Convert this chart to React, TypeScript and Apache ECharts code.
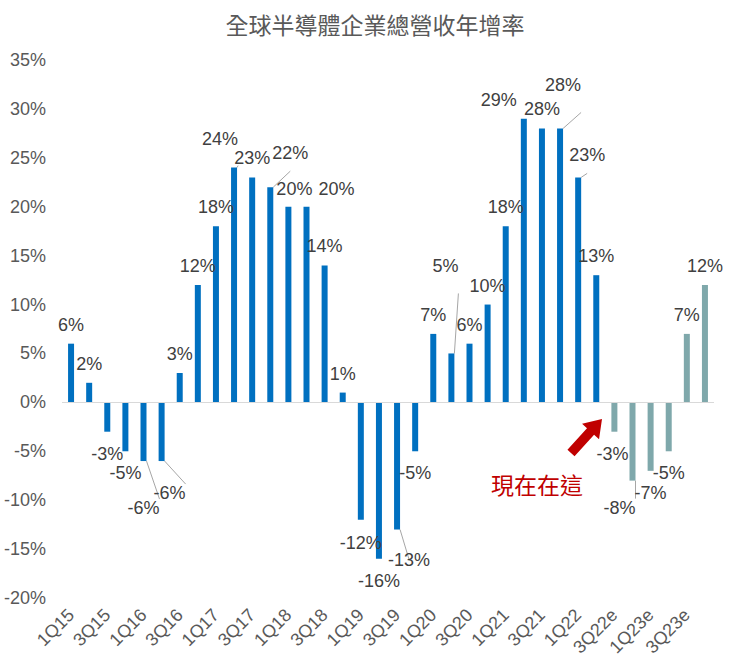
import React, { useEffect, useRef } from 'react';
import * as echarts from 'echarts';

const categories = [
  '1Q15', '2Q15', '3Q15', '4Q15', '1Q16', '2Q16', '3Q16', '4Q16',
  '1Q17', '2Q17', '3Q17', '4Q17', '1Q18', '2Q18', '3Q18', '4Q18',
  '1Q19', '2Q19', '3Q19', '4Q19', '1Q20', '2Q20', '3Q20', '4Q20',
  '1Q21', '2Q21', '3Q21', '4Q21', '1Q22', '2Q22', '3Q22e', '4Q22e',
  '1Q23e', '2Q23e', '3Q23e', '4Q23e',
];
const growth = [
  6, 2, -3, -5, -6, -6, 3, 12,
  18, 24, 23, 22, 20, 20, 14, 1,
  -12, -16, -13, -5, 7, 5, 6, 10,
  18, 29, 28, 28, 23, 13, -3, -8,
  -7, -5, 7, 12,
];
const yMin = -20;
const yMax = 35;
const yStep = 5;
const titleText = '全球半導體企業總營收年增率';
const noteText = '現在在這';

// label placement nudges (px) and which labels carry leader lines
const labelNudge: Record<number, [number, number]> = {
  4: [0, 25], 5: [8, 10], 9: [-14, -10], 11: [20, -15], 12: [6, 1], 13: [30, 1],
  16: [0, 1], 18: [12, 8], 21: [-6, -68], 25: [-25, 0], 27: [3, -24], 28: [9, -3],
  30: [-2, 0], 31: [-13, 5],
};
const leaderIdx = [4, 5, 9, 11, 18, 21, 27, 28, 31];

const BLUE = '#0070c0';
const TEAL = '#7fa8ab';
const FONT = "'Liberation Sans', Arial, 'Noto Sans CJK TC', sans-serif";

function arrowPoints(tail: [number, number], tip: [number, number]) {
  const dx = tip[0] - tail[0];
  const dy = tip[1] - tail[1];
  const len = Math.sqrt(dx * dx + dy * dy);
  const ux = dx / len, uy = dy / len;
  const nx = -uy, ny = ux;
  const headLen = 17, headHalf = 11.5, shaftHalf = 4.8;
  const bx = tip[0] - ux * headLen, by = tip[1] - uy * headLen;
  return [
    [tail[0] + nx * shaftHalf, tail[1] + ny * shaftHalf],
    [bx + nx * shaftHalf, by + ny * shaftHalf],
    [bx + nx * headHalf, by + ny * headHalf],
    [tip[0], tip[1]],
    [bx - nx * headHalf, by - ny * headHalf],
    [bx - nx * shaftHalf, by - ny * shaftHalf],
    [tail[0] - nx * shaftHalf, tail[1] - ny * shaftHalf],
  ];
}

export default function App() {
  const ref = useRef<HTMLDivElement>(null);

  useEffect(() => {
    document.body.style.margin = '0';
    if (!ref.current) return;
    const chart = echarts.init(ref.current, undefined, { renderer: 'svg' });
    const estStart = categories.findIndex((c) => c.endsWith('e'));

    const data = growth.map((v, i) => {
      const nudge = labelNudge[i] || [0, 0];
      const item: any = {
        value: v,
        itemStyle: { color: i >= estStart ? TEAL : BLUE },
        label: {
          position: v >= 0 ? 'top' : 'bottom',
          distance: v >= 0 ? 10 : 13,
          offset: nudge,
        },
      };
      if (leaderIdx.includes(i)) {
        item.labelLine = {
          show: true,
          length2: 0,
          lineStyle: { color: '#a6a6a6', width: 1 },
        };
      }
      return item;
    });

    chart.setOption({
      animation: false,
      textStyle: { fontFamily: FONT },
      title: {
        text: titleText,
        left: 370,
        top: 7,
        textAlign: 'center',
        textStyle: { fontSize: 23, fontWeight: 'normal', color: '#595959', fontFamily: "'Noto Sans CJK TC', sans-serif" },
      },
      grid: { left: 62, right: 15, top: 60, bottom: 67 },
      xAxis: {
        type: 'category',
        data: categories,
        axisLine: { show: false, onZero: false },
        axisTick: { show: false },
        axisLabel: {
          interval: 1,
          rotate: 45,
          margin: 14,
          fontSize: 18,
          color: '#595959',
          fontFamily: FONT,
        },
      },
      yAxis: {
        type: 'value',
        min: yMin,
        max: yMax,
        interval: yStep,
        splitLine: { show: false },
        axisLine: { show: false },
        axisTick: { show: false },
        axisLabel: {
          formatter: '{value}%',
          fontSize: 18,
          color: '#595959',
          margin: 16,
          fontFamily: FONT,
        },
      },
      series: [
        {
          type: 'bar',
          barWidth: 6,
          data,
          label: {
            show: true,
            formatter: '{c}%',
            fontSize: 18,
            color: '#404040',
            fontFamily: FONT,
          },
          markLine: {
            silent: true,
            symbol: 'none',
            label: { show: false },
            lineStyle: { color: '#d9d9d9', type: 'solid', width: 1 },
            data: [{ yAxis: 0 }],
          },
          z: 3,
        },
      ],
      graphic: [
        {
          type: 'polygon',
          shape: { points: arrowPoints([571, 453], [602, 419]) },
          style: { fill: '#c00000' },
          z: 10,
        },
        {
          type: 'text',
          x: 537,
          y: 484,
          style: {
            text: noteText,
            fill: '#c00000',
            font: "23px 'Noto Sans CJK TC', sans-serif",
            textAlign: 'center',
            textVerticalAlign: 'middle',
          },
          z: 10,
        },
      ],
    });

    return () => chart.dispose();
  }, []);

  return <div ref={ref} style={{ width: 729, height: 665 }} />;
}
